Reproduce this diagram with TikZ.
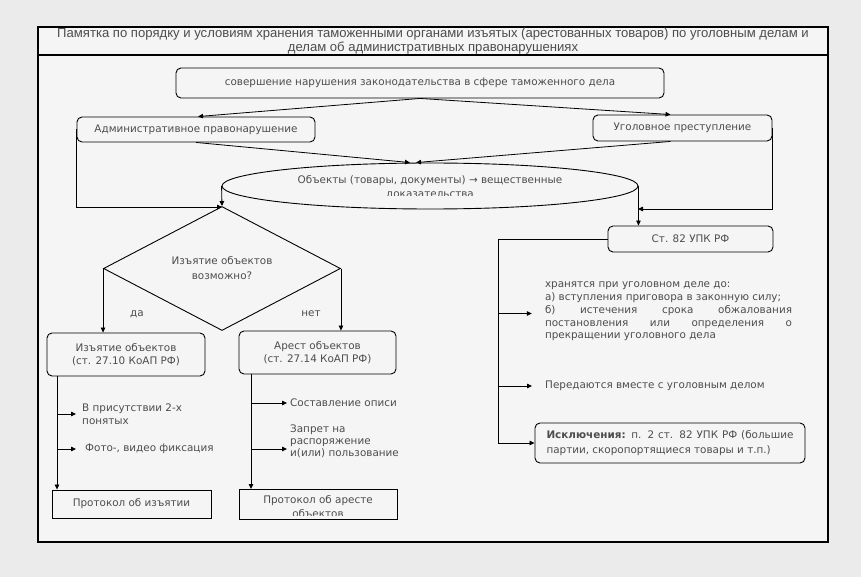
\documentclass[tikz,border=0pt]{standalone}
\usepackage{fontspec}
\setmainfont{DejaVu Sans}
\newfontfamily\titlefont{Liberation Sans}
\usetikzlibrary{shapes.geometric,arrows.meta}
\definecolor{txtgray}{HTML}{4D4D4D}
\definecolor{pagegray}{HTML}{EBEBEB}
\definecolor{framefill}{HTML}{F5F5F5}
\tikzset{
  box/.style={draw, rounded corners=5pt, line width=0.9pt, text=txtgray, align=center, inner sep=0pt},
  sharpbox/.style={draw, line width=0.9pt, text=txtgray, align=center, inner sep=0pt},
  note/.style={text=txtgray, align=left, inner sep=0pt, anchor=west},
  arr/.style={-{Triangle[length=5pt,width=4.5pt]}, line width=0.8pt},
}
\begin{document}
\begin{tikzpicture}[x=1pt,y=-1pt,font=\fontsize{10.4}{13}\selectfont]
\useasboundingbox (0,0) rectangle (861,577);
\fill[pagegray] (0,0) rectangle (861,577);
% frame and title
\draw[fill=framefill, line width=1.3pt] (38,27) rectangle (828,542);
\draw[line width=1.3pt] (38,55) -- (828,55);
\node[text=txtgray, align=center, font=\titlefont\fontsize{13.1}{14}\selectfont] (title) at (433,41)
 {Памятка по порядку и условиям хранения таможенными органами изъятых (арестованных товаров) по уголовным делам и\\
  делам об административных правонарушениях};

% upper part
\node[box, minimum width=488pt, minimum height=30pt] (event) at (420,83)
 {совершение нарушения законодательства в сфере таможенного дела};
\node[box, minimum width=238pt, minimum height=25pt] (admin) at (196,129.5) {Административное правонарушение};
\node[box, minimum width=179pt, minimum height=26pt] (crime) at (682.5,128) {Уголовное преступление};
\node[draw, ellipse, line width=0.9pt, minimum width=416pt, minimum height=46pt] (objects) at (430,186) {};
\begin{scope}
\clip (222,163) rectangle (638,195.5);
\node[text=txtgray, align=center, font=\fontsize{10.4}{14}\selectfont] (objtext) at (430,187)
 {Объекты (товары, документы) → вещественные\\доказательства};
\end{scope}

\draw[arr] (event.south) -- ([xshift=2pt]admin.north);
\draw[arr] (event.south) -- ([xshift=-12pt]crime.north);
\draw[arr] (admin.south) -- ([xshift=-20pt]objects.north);
\draw[arr] ([xshift=-12pt]crime.south) -- ([xshift=-14pt]objects.north);

% administrative branch
\node[draw, diamond, line width=0.9pt, minimum width=237pt, minimum height=99pt, inner sep=0pt,
 text=txtgray, align=center, font=\fontsize{10.4}{15}\selectfont] (check) at (222,268.5) {Изъятие объектов\\возможно?};
\coordinate (ljoin) at (222,207);
\draw[arr] (admin.west) |- (ljoin);
\draw[arr] (objects.west) -- (check.north);

\node[box, minimum width=158pt, minimum height=43pt] (seize) at (126,354.5) {Изъятие объектов\\(ст. 27.10 КоАП РФ)};
\node[box, minimum width=157pt, minimum height=43pt] (arrest) at (317.5,352.5) {Арест объектов\\(ст. 27.14 КоАП РФ)};
\draw[arr] (check.west) -- (check.west |- seize.north);
\draw[arr] (check.east) -- (check.east |- arrest.north);
\node[text=txtgray] (yes) at (137,314) {да};
\node[text=txtgray] (no) at (311,314) {нет};

\node[sharpbox, minimum width=159pt, minimum height=28pt] (seizeprot) at (131.5,504) {Протокол об изъятии};
\draw[sharpbox] (239,489) rectangle (397,519);
\coordinate (arrestprot) at (318,489);
\begin{scope}
\clip (239,489) rectangle (397,515.5);
\node[text=txtgray, align=center, font=\fontsize{10.4}{14}\selectfont] (arresttext) at (318,507) {Протокол об аресте\\объектов};
\end{scope}

\coordinate (ltrunk) at (57,0);
\coordinate (mtrunk) at (251,0);
\node[note] (witness) at (82,414) {В присутствии 2-х\\понятых};
\node[note] (photo) at (85,449) {Фото-, видео фиксация};
\node[note] (inventory) at (290,403) {Составление описи};
\node[note, font=\fontsize{10.4}{12}\selectfont] (ban) at (290,441) {Запрет на\\распоряжение\\и(или) пользование};
\draw[arr] (seize.south -| ltrunk) -- (seizeprot.north -| ltrunk);
\draw[arr] (arrest.south -| mtrunk) -- (arrestprot -| mtrunk);
\draw[arr, shorten >=6pt] (witness.west -| ltrunk) -- (witness.west);
\draw[arr, shorten >=9pt] (photo.west -| ltrunk) -- (photo.west);
\draw[arr, shorten >=3pt] (inventory.west -| mtrunk) -- (inventory.west);
\draw[arr, shorten >=3pt] ([yshift=-8pt]ban.west -| mtrunk) -- ([yshift=-8pt]ban.west);

% criminal branch
\node[box, minimum width=165pt, minimum height=26pt] (upk) at (690.5,239) {Ст. 82 УПК РФ};
\coordinate (rjoin) at (638,209);
\draw[arr] (crime.east) |- (rjoin);
\draw[arr] (objects.east) -- (objects.east |- upk.north);

\node[text=txtgray, text width=247pt, align=justify, inner sep=0pt, font=\fontsize{10.4}{12.7}\selectfont] (keep) at (668.5,311.5)
 {хранятся при уголовном деле до:\\
  а) вступления приговора в законную силу;\\
  б) истечения срока обжалования\linebreak постановления или определения о\linebreak прекращении уголовного дела};
\node[note] (pass) at (545,386) {Передаются вместе с уголовным делом};
\node[box, minimum width=270pt, minimum height=40pt, text width=247pt, align=justify,
 font=\fontsize{10.4}{15}\selectfont] (except) at (670,443)
 {\textbf{Исключения:} п. 2 ст. 82 УПК РФ (большие\linebreak партии, скоропортящиеся товары и т.п.)};
\coordinate (rtrunk) at (498,443);
\draw (upk.west) -| (rtrunk);
\draw[arr, shorten >=13pt] ([yshift=-2pt]keep.west -| rtrunk) -- ([yshift=-2pt]keep.west);
\draw[arr, shorten >=13pt] (pass.west -| rtrunk) -- (pass.west);
\draw[arr] (rtrunk) -- (except.west);
\end{tikzpicture}
\end{document}
